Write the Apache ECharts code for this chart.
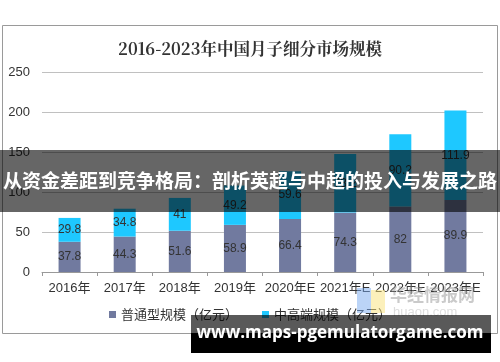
<!DOCTYPE html>
<html>
<head>
<meta charset="utf-8">
<script src="https://cdn.jsdelivr.net/npm/echarts@6/dist/echarts.min.js"></script>
<style>html,body{margin:0;padding:0;background:#fff}#c{width:500px;height:362px}</style>
</head>
<body>
<div id="c"></div>
<script>
var categories = ['2016年','2017年','2018年','2019年','2020年E','2021年E','2022年E','2023年E'];
var regularValues = [37.8, 44.3, 51.6, 58.9, 66.4, 74.3, 82, 89.9];
var premiumValues = [29.8, 34.8, 41, 49.2, 59.6, 73.2, 90.2, 111.9];
var seriesNames = ['普通型规模（亿元）', '中高端规模（亿元）'];
var yTicks = [0, 50, 100, 150, 200, 250];
var titleText = '2016-2023年中国月子细分市场规模';
var bannerText = '从资金差距到竞争格局：剖析英超与中超的投入与发展之路';
var watermarkText = 'www.maps-pgemulatorgame.com';

var chart = echarts.init(document.getElementById('c'));
var font = '"Noto Sans CJK SC", "Liberation Sans", sans-serif';
var labelStyle = {show: true, position: 'inside', color: '#333', fontSize: 12, fontFamily: '"Liberation Sans", Arial, sans-serif'};
chart.setOption({
  animation: false,
  backgroundColor: '#fff',
  title: {
    text: titleText, left: 'center', top: 35,
    textStyle: {fontSize: 16.5, fontWeight: 'bold', color: '#333', fontFamily: '"Noto Serif CJK SC", "Noto Sans CJK SC", serif'}
  },
  legend: {
    data: seriesNames, bottom: 36, left: 'center', itemWidth: 7, itemHeight: 7, itemGap: 24,
    icon: 'rect',
    textStyle: {fontSize: 13, color: '#333', fontFamily: font}
  },
  grid: {left: 42, right: 17, top: 72, bottom: 90},
  xAxis: {
    type: 'category', data: categories,
    axisLine: {lineStyle: {color: '#999'}},
    axisTick: {show: true, length: 4, lineStyle: {color: '#999'}},
    axisLabel: {fontSize: 13, color: '#333', margin: 10, interval: 0, fontFamily: '"Liberation Sans", "Noto Sans CJK SC", sans-serif'}
  },
  yAxis: {
    type: 'value', min: 0, max: 250, interval: 50,
    axisLine: {show: false}, axisTick: {show: false},
    axisLabel: {fontSize: 13, color: '#333', margin: 12, fontFamily: '"Liberation Sans", Arial, sans-serif',
      formatter: function (v) { return yTicks.indexOf(v) >= 0 ? String(v) : ''; }},
    splitLine: {lineStyle: {color: '#c0c0c0'}}
  },
  series: [
    {name: seriesNames[0], type: 'bar', stack: 't', data: regularValues, barWidth: 22,
      itemStyle: {color: '#717a9f'}, label: labelStyle},
    {name: seriesNames[1], type: 'bar', stack: 't', data: premiumValues, barWidth: 22,
      itemStyle: {color: '#1ec8ff'}, label: labelStyle}
  ],
  graphic: [
    {type: 'rect', z: 0, silent: true, shape: {x: 2.5, y: 25.5, width: 495, height: 308},
      style: {fill: 'none', stroke: '#9a9a9a', lineWidth: 1}},
    {type: 'text', z: 50, silent: true, left: 390, top: 286,
      style: {text: '华经情报网', fill: 'rgba(150,150,150,0.5)', font: 'bold 17px "Noto Sans CJK SC", sans-serif'}},
    {type: 'text', z: 50, silent: true, left: 393, top: 306,
      style: {text: 'huaon.com', fill: 'rgba(170,170,170,0.4)', font: '13px "Liberation Sans", sans-serif'}},
    {type: 'rect', z: 50, silent: true, shape: {x: 357, y: 288, width: 14, height: 25},
      style: {fill: 'rgba(120,170,240,0.5)'}},
    {type: 'rect', z: 50, silent: true, shape: {x: 371, y: 290, width: 14, height: 23},
      style: {fill: 'rgba(250,225,120,0.5)'}},
    {type: 'rect', z: 100, silent: true, shape: {x: 0, y: 150, width: 500, height: 62},
      style: {fill: 'rgba(0,0,0,0.6)'}},
    {type: 'text', z: 101, silent: true, x: 250, y: 181,
      style: {text: bannerText, fill: '#fff', align: 'center', verticalAlign: 'middle',
        font: 'bold 19px "Noto Sans CJK SC", sans-serif'}},
    {type: 'rect', z: 100, silent: true, shape: {x: 191, y: 315, width: 300, height: 18},
      style: {fill: 'rgba(0,0,0,0.65)'}},
    {type: 'rect', z: 100, silent: true, shape: {x: 191, y: 333, width: 300, height: 20},
      style: {fill: '#000'}},
    {type: 'text', z: 101, silent: true, x: 340, y: 333,
      style: {text: watermarkText, fill: '#fff', align: 'center', verticalAlign: 'middle',
        font: 'bold 17px "Open Sans", "DejaVu Sans", sans-serif'}}
  ]
});
</script>
</body>
</html>
